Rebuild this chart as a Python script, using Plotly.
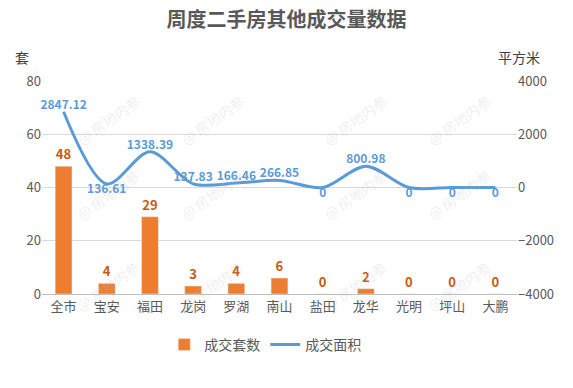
import plotly.graph_objects as go

categories = ["全市", "宝安", "福田", "龙岗", "罗湖", "南山", "盐田", "龙华", "光明", "坪山", "大鹏"]
units = [48, 4, 29, 3, 4, 6, 0, 2, 0, 0, 0]
area = [2847.12, 136.61, 1338.39, 137.83, 166.46, 266.85, 0, 800.98, 0, 0, 0]
area_labels = ["2847.12", "136.61", "1338.39", "137.83", "166.46", "266.85", "0", "800.98", "0", "0", "0"]
area_label_pos = ["top center", "bottom center", "top center", "top center", "top center", "top center",
                  "bottom center", "top center", "bottom center", "bottom center", "bottom center"]

FONT = "Microsoft YaHei, Noto Sans CJK SC, sans-serif"

fig = go.Figure()
fig.add_trace(go.Bar(
    x=categories, y=units, name="成交套数",
    marker_color="#ED7D31", width=0.39,
    text=["<b>%d</b>" % v for v in units], textposition="outside",
    textfont=dict(color="#C55A11", size=13, family=FONT),
    cliponaxis=False,
))
fig.add_trace(go.Scatter(
    x=categories, y=area, name="成交面积", yaxis="y2",
    mode="lines+text", line=dict(color="#5B9BD5", width=3, shape="spline", smoothing=0.9),
    text=["<b>%s</b>" % t for t in area_labels], textposition=area_label_pos,
    textfont=dict(color="#5B9BD5", size=12, family=FONT),
    cliponaxis=False,
))

# watermarks (pixel positions converted to paper coords)
for px in [70, 212, 355, 497]:
    for py in [88, 195, 318]:
        fig.add_annotation(text="@ 房地内参", x=(px - 42) / 475, y=(294 - py) / 213,
                           xref="paper", yref="paper", showarrow=False, textangle=-35,
                           font=dict(size=14, color="rgba(190,190,190,0.25)", family=FONT))

fig.add_annotation(text="套", x=(22 - 42) / 475, y=(294 - 57) / 213, xref="paper", yref="paper",
                   xanchor="center", yanchor="middle", showarrow=False,
                   font=dict(size=14, color="#404040", family=FONT))
fig.add_annotation(text="平方米", x=(519 - 42) / 475, y=(294 - 57) / 213, xref="paper", yref="paper",
                   xanchor="center", yanchor="middle", showarrow=False,
                   font=dict(size=14, color="#404040", family=FONT))

fig.update_layout(
    width=573, height=388,
    margin=dict(l=42, r=56, t=81, b=94),
    paper_bgcolor="white", plot_bgcolor="white",
    title=dict(text="<b>周度二手房其他成交量数据</b>", x=0.5, xanchor="center", y=1 - 20 / 388, yanchor="middle",
               font=dict(size=20, color="#595959", family=FONT)),
    font=dict(family=FONT, color="#595959", size=13),
    xaxis=dict(range=[-0.5, 10.5], showgrid=False, showline=True, linecolor="#BFBFBF",
               tickfont=dict(size=13, color="#595959"), ticks="", automargin=False),
    yaxis=dict(range=[0, 80], dtick=20, showgrid=True, gridcolor="#D9D9D9", zeroline=False,
               tickfont=dict(size=13, color="#595959"), ticks="", automargin=False),
    yaxis2=dict(range=[-4000, 4000], dtick=2000, overlaying="y", side="right", showgrid=False,
                zeroline=False, tickfont=dict(size=13, color="#595959"), ticks="", automargin=False),
    legend=dict(orientation="h", x=0.47, xanchor="center", y=(294 - 345) / 213, yanchor="middle",
                font=dict(size=14, color="#595959"), traceorder="normal", itemwidth=30),
    showlegend=True,
)

fig.write_html("out.html", config={"displayModeBar": False})
with open("out.html", "r", encoding="utf-8") as f:
    html = f.read()
html = html.replace("<body>", '<body style="margin:0;padding:0">', 1)
with open("out.html", "w", encoding="utf-8") as f:
    f.write(html)
